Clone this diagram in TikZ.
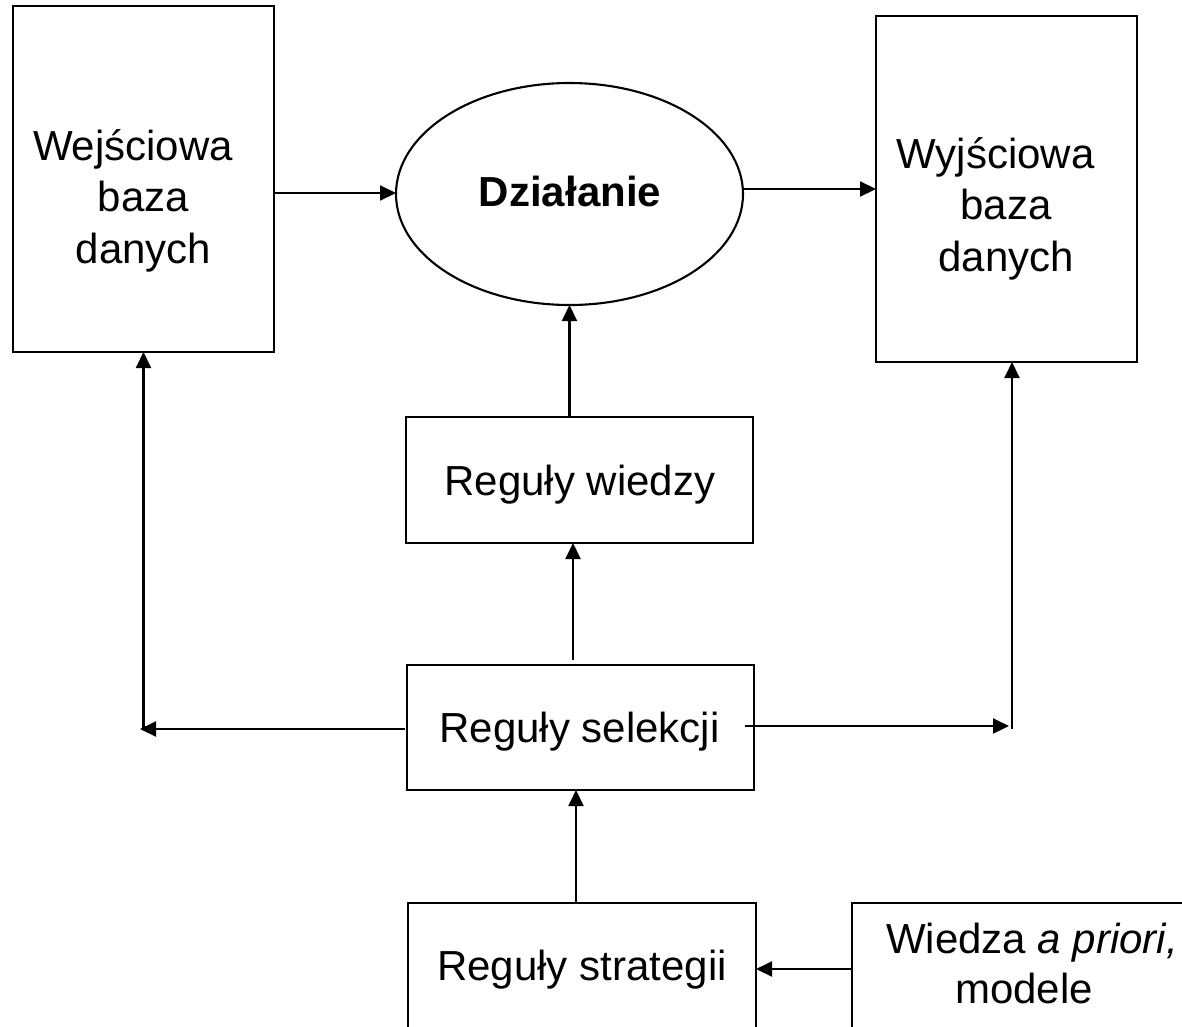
\documentclass[tikz,border=0pt]{standalone}
\usepackage{fontspec}
\setmainfont{Liberation Sans}
\usetikzlibrary{shapes.geometric,arrows.meta}
\begin{document}
\begin{tikzpicture}[x=1pt,y=-1pt,
  every node/.style={inner sep=0pt, outer sep=0pt},
  boxshape/.style={draw=black, line width=2.1pt, rectangle},
  ovalshape/.style={draw=black, line width=2.1pt, ellipse},
  txt/.style={font=\fontsize{42pt}{51.5pt}\selectfont, align=center, anchor=base},
  arr/.style={line width=2.1pt, -{Triangle[length=16pt,width=15pt]}}
]
\useasboundingbox (0,0) rectangle (1182,1026);
\clip (0,0) rectangle (1182,1026);
\fill[white] (0,0) rectangle (1182,1026);

% shapes
\node[boxshape, minimum width=261pt, minimum height=346pt] (in) at (143.5,179) {};
\node[ovalshape, minimum width=347pt, minimum height=222pt] (act) at (569.5,194) {};
\node[boxshape, minimum width=261pt, minimum height=346pt] (out) at (1006.5,189) {};
\node[boxshape, minimum width=347pt, minimum height=126pt] (know) at (579.5,480) {};
\node[boxshape, minimum width=347pt, minimum height=125pt] (sel) at (580.5,727.5) {};
\node[boxshape, minimum width=348pt, minimum height=197pt] (strat) at (582,1001.5) {};
\node[boxshape, minimum width=398pt, minimum height=197pt] (prior) at (1051,1001.5) {};

% texts (anchor=base is the baseline of the last line)
\node[txt] (intext) at (143.5,263) {Wejściowa\hspace*{21pt}\\baza\\danych};
\node[txt] (acttext) at (570,206) {\textbf{Działanie}};
\node[txt] (outtext) at (1006,271) {Wyjściowa\hspace*{21pt}\\baza\\danych};
\node[txt] (knowtext) at (580,495) {Reguły wiedzy};
\node[txt] (seltext) at (579.5,742) {Reguły selekcji};
\node[txt] (strattext) at (582,980) {Reguły strategii};
\node[txt, font=\fontsize{42pt}{50pt}\selectfont] (priortext) at (1024,1003) {\hspace*{16pt}Wiedza \textit{a priori,}\\modele};

% connectors
\draw[arr] (in.east |- 0,193) -- (act.west |- 0,193);
\draw[arr] ([yshift=5pt]act.east) -- ([yshift=5pt]act.east -| out.west);
\draw[arr] (know.north -| act.south) -- (act.south);
\draw[arr] ([xshift=-7.5pt,yshift=5pt]sel.north) -- ([xshift=-6.5pt]know.south);
\coordinate (lend) at (140,729);
\coordinate (lturn) at (143.5,729);
\draw[arr] ([xshift=-2pt,yshift=-1.5pt]sel.west) -- (lend);
\draw[arr] (lturn) -- (in.south);
\coordinate (rend) at (1009,726);
\coordinate (rturn) at (1012,729);
\draw[arr] ([xshift=-9pt,yshift=1.5pt]sel.east) -- (rend);
\draw[arr] (rturn) -- (rturn |- out.south);
\draw[arr] ([xshift=-6pt]strat.north) -- ([xshift=-6pt]strat.north |- sel.south);
\coordinate (pstart) at (853,969);
\draw[arr] (pstart) -- (pstart -| strat.east);
\end{tikzpicture}
\end{document}
